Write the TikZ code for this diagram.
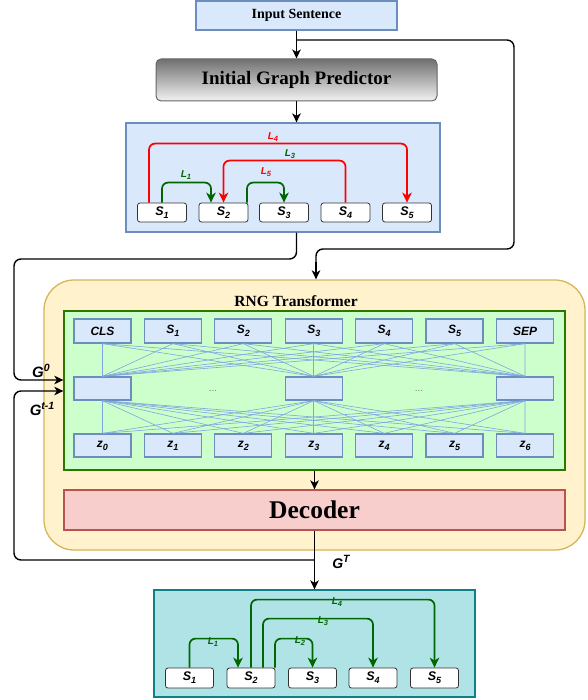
\documentclass[tikz,border=0pt]{standalone}
\usepackage{fontspec}
\setmainfont{Liberation Serif}
\newfontfamily\lsans{Liberation Sans}
\usetikzlibrary{arrows.meta,calc}
\definecolor{lblue}{HTML}{DAE8FC}
\definecolor{bblue}{HTML}{6C8EBF}
\definecolor{lyel}{HTML}{FFF2CC}
\definecolor{byel}{HTML}{D6B656}
\definecolor{lgreen}{HTML}{CCFFCC}
\definecolor{bgreen}{HTML}{2D7600}
\definecolor{lred}{HTML}{F8CECC}
\definecolor{bred}{HTML}{B85450}
\definecolor{lteal}{HTML}{B0E3E6}
\definecolor{bteal}{HTML}{0E8088}
\definecolor{dgreen}{HTML}{006600}
\definecolor{rred}{HTML}{FF0000}
\definecolor{cline}{HTML}{7EA6E0}
\definecolor{gtop}{HTML}{707070}
\definecolor{gbot}{HTML}{F2F2F2}
\newcommand\subs[1]{\raisebox{-0.45ex}{\fontsize{9}{9}\selectfont #1}}
\newcommand\subl[1]{\raisebox{-0.45ex}{\fontsize{7.5}{7.5}\selectfont #1}}
\newcommand\suprs[1]{\raisebox{0.85ex}{\fontsize{10.5}{10.5}\selectfont #1}}
\begin{document}
\begin{tikzpicture}[x=1pt,y=-1pt,
  arr/.style={line width=1.4pt, draw=black, -{Stealth[length=9pt,width=8.5pt,inset=2.5pt]}},
  blk/.style={line width=1.4pt, draw=black},
  garr/.style={line width=1.7pt, draw=dgreen, rounded corners=6pt, -{Stealth[length=10pt,width=9.5pt,inset=3pt]}},
  rarr/.style={line width=1.7pt, draw=rred, rounded corners=6pt, -{Stealth[length=10pt,width=9.5pt,inset=3pt]}},
  snode/.style={draw=black!80, fill=white, rounded corners=2.5pt, line width=0.8pt, minimum width=49pt, minimum height=19pt, inner sep=0pt, font=\lsans\bfseries\itshape\fontsize{12.5}{12.5}\selectfont},
  tok/.style={draw=bblue, fill=lblue, line width=1.3pt, minimum width=57pt, minimum height=24pt, inner sep=0pt, font=\lsans\bfseries\itshape\fontsize{12}{12}\selectfont},
  conn/.style={draw=cline, line width=0.6pt},
  llab/.style={font=\lsans\bfseries\itshape\fontsize{10}{10}\selectfont, inner sep=0pt},
  glab/.style={font=\lsans\bfseries\itshape\fontsize{15}{15}\selectfont, inner sep=0pt}
]
\useasboundingbox (0,0) rectangle (587,700);

% Input sentence
\node[draw=bblue, fill=lblue, line width=1.2pt, minimum width=201pt, minimum height=29pt, inner sep=0pt,
  font=\bfseries\fontsize{14}{14}\selectfont] (inp) at (296.5,15.5) {Input Sentence};

% Initial graph predictor
\node[draw=black!60, top color=gtop, bottom color=gbot, rounded corners=5pt, line width=1pt,
  minimum width=281pt, minimum height=42pt, inner sep=0pt,
  font=\bfseries\fontsize{19}{19}\selectfont] (pred) at (296.5,80) {Initial Graph Predictor};

% First graph box
\node[draw=bblue, fill=lblue, line width=1.2pt, minimum width=314pt, minimum height=109pt, inner sep=0pt] (g1) at (283,177.5) {};
\node[snode] (a1) at (162,212.5) {S\subs{1}};
\node[snode] (a2) at (223.5,212.5) {S\subs{2}};
\node[snode] (a3) at (284,212.5) {S\subs{3}};
\node[snode] (a4) at (345.5,212.5) {S\subs{4}};
\node[snode] (a5) at (407,212.5) {S\subs{5}};

\draw[rarr] ($(a1.north)+(-13,0)$) -- ++(0,-59) -| (a5.north);
\draw[rarr] (a4.north) -- ++(0,-42) -| (a2.north);
\draw[garr] (a1.north) -- ++(0,-20) -| ($(a2.north)+(-12.5,0)$);
\draw[garr] ($(a2.north)+(23.5,0)$) -- ++(0,-20) -| (a3.north);
\node[llab, text=rred] (la4) at (273,137) {L\subl{4}};
\node[llab, text=dgreen] (la3) at (290,154) {L\subl{3}};
\node[llab, text=rred] (la5) at (266,172) {L\subl{5}};
\node[llab, text=dgreen] (la1) at (186,175) {L\subl{1}};

% RNG transformer container
\node[draw=byel, fill=lyel, line width=1.3pt, rounded corners=30pt, minimum width=541pt, minimum height=270pt, inner sep=0pt] (rng) at (314.5,415) {};
\node[font=\bfseries\fontsize{15.5}{15.5}\selectfont, inner sep=0pt] (rngt) at (296,301) {RNG Transformer};
\node[draw=bgreen, fill=lgreen, line width=1.3pt, minimum width=501pt, minimum height=159pt, inner sep=0pt] (gbox) at (314.5,390.5) {};

% token rows
\foreach \i/\lab in {0/CLS,1/S\subs{1},2/S\subs{2},3/S\subs{3},4/S\subs{4},5/S\subs{5},6/SEP}{
  \node[tok] (t\i) at (102.5+70.42*\i,331) {\lab};
  \node[tok, minimum height=23pt] (z\i) at (102.5+70.42*\i,445.5) {z\subs{\i}};
}
\node[tok, minimum height=23pt] (m1) at (102.5,388.5) {};
\node[tok, minimum height=23pt] (m2) at (313.76,388.5) {};
\node[tok, minimum height=23pt] (m3) at (525,388.5) {};
\foreach \i in {0,...,6}{
  \foreach \j in {1,2,3}{
    \draw[conn] (t\i.south) -- (m\j.north);
    \draw[conn] (m\j.south) -- (z\i.north);
  }
}
\node[text=gray, font=\lsans\fontsize{10}{10}\selectfont, inner sep=0pt] (d1) at (213,391) {...};
\node[text=gray, font=\lsans\fontsize{10}{10}\selectfont, inner sep=0pt] (d2) at (419,391) {...};

% Decoder
\node[draw=bred, fill=lred, line width=1.3pt, minimum width=501pt, minimum height=40pt, inner sep=0pt,
  font=\bfseries\fontsize{25.5}{25.5}\selectfont] (dec) at (314.5,510) {Decoder};

% Output graph box
\node[draw=bteal, fill=lteal, line width=1.3pt, minimum width=321pt, minimum height=107pt, inner sep=0pt] (g2) at (314.5,643.5) {};
\node[snode, minimum width=48pt, minimum height=20pt] (b1) at (189.5,678) {S\subs{1}};
\node[snode, minimum width=48pt, minimum height=20pt] (b2) at (251,678) {S\subs{2}};
\node[snode, minimum width=48pt, minimum height=20pt] (b3) at (312.5,678) {S\subs{3}};
\node[snode, minimum width=48pt, minimum height=20pt] (b4) at (373,678) {S\subs{4}};
\node[snode, minimum width=48pt, minimum height=20pt] (b5) at (434.5,678) {S\subs{5}};
\draw[garr] (b1.north) -- ++(0,-29) -| ($(b2.north)+(-13,0)$);
\draw[garr] ($(b2.north)+(24,0)$) -- ++(0,-29) -| (b3.north);
\draw[garr] ($(b2.north)+(12,0)$) -- ++(0,-49) -| (b4.north);
\draw[garr] (b2.north) -- ++(0,-68) -| (b5.north);
\node[llab, text=dgreen] (lb1) at (213,642) {L\subl{1}};
\node[llab, text=dgreen] (lb2) at (300,641) {L\subl{2}};
\node[llab, text=dgreen] (lb3) at (323,621) {L\subl{3}};
\node[llab, text=dgreen] (lb4) at (337,602) {L\subl{4}};

% main connectors
\draw[arr] (inp.south) -- (pred.north);
\draw[blk, rounded corners=7pt] (inp.south |- 0,40) -- (514,40) -- (514,249) -- (316,249) -- (316,262);
\draw[arr] (316,262) -- (316,0 |- rng.north);
\draw[arr] (pred.south) -- (pred.south |- g1.north);
\draw[arr, rounded corners=7pt] (pred.south |- g1.south) -- (296.5,259) -| (14,380) -- (gbox.west |- 0,380);
\draw[arr] (gbox.south) -- (dec.north);
\draw[arr] (dec.south) -- (g2.north);
\draw[arr, rounded corners=7pt] (dec.south |- 0,560) -| (14,391) -- (gbox.west |- 0,391);

\node[glab] (lg0) at (41,371) {G\suprs{0}};
\node[glab] (lgt) at (42,409) {G\suprs{t-1}};
\node[glab, font=\lsans\bfseries\itshape\fontsize{14}{14}\selectfont] (lgT) at (341,562) {G\suprs{T}};
\end{tikzpicture}
\end{document}
